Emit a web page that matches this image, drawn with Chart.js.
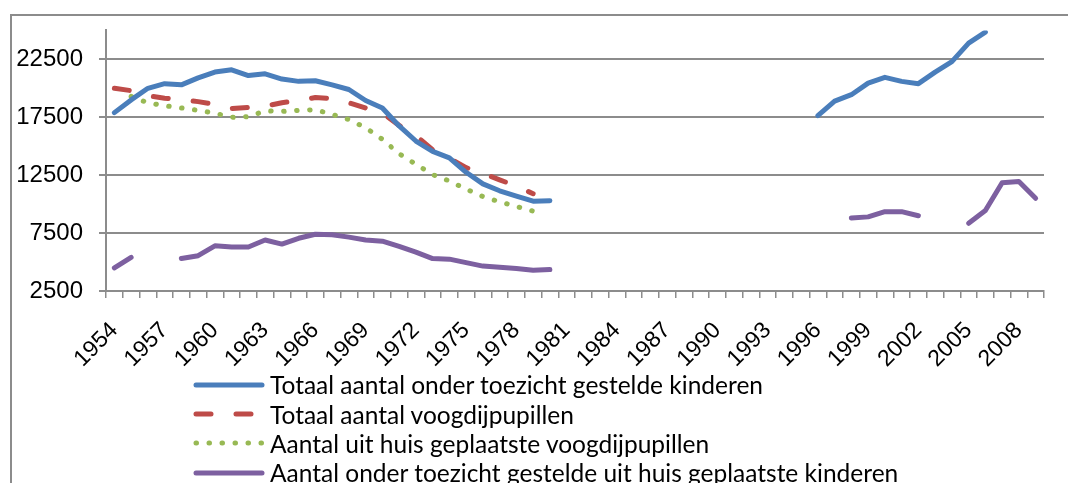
<!DOCTYPE html>
<html>
<head>
<meta charset="utf-8">
<script src="https://cdn.jsdelivr.net/npm/chart.js@4.4.0/dist/chart.umd.min.js"></script>
<style>
  html, body { margin: 0; padding: 0; background: #fff; }
  #wrap { position: relative; width: 1068px; height: 483px; overflow: hidden; }
  #frame { position: absolute; left: 10px; top: 14px; width: 1100px; height: 500px;
           border-left: 2px solid #8c8c8c; border-top: 2px solid #8c8c8c; }
  #chart { position: absolute; left: 0; top: 0; }
  #legend { position: absolute; left: 193px; top: 370px; font-family: Lato, sans-serif;
            font-size: 24.5px; color: #000; }
  #legend .item { height: 29.4px; display: flex; align-items: center; white-space: nowrap; }
  #legend svg { margin-right: 5px; }
</style>
</head>
<body>
<div id="wrap">
  <div id="frame"></div>
  <canvas id="chart" width="1068" height="483"></canvas>
  <div id="legend"></div>
</div>
<script>
const years = [
  '1954','1955','1956','1957','1958','1959','1960','1961','1962','1963',
  '1964','1965','1966','1967','1968','1969','1970','1971','1972','1973',
  '1974','1975','1976','1977','1978','1979','1980','1981','1982','1983',
  '1984','1985','1986','1987','1988','1989','1990','1991','1992','1993',
  '1994','1995','1996','1997','1998','1999','2000','2001','2002','2003',
  '2004','2005','2006','2007','2008','2009'
];
const shownYears = ['1954','1957','1960','1963','1966','1969','1972','1975','1978',
  '1981','1984','1987','1990','1993','1996','1999','2002','2005','2008'];
const yTicks = [2500, 7500, 12500, 17500, 22500];

// Totaal aantal onder toezicht gestelde kinderen
const totaalOts = [
  17900, 19000, 20000, 20400, 20300, 20900, 21400, 21600, 21100, 21250,
  20800, 20600, 20650, 20300, 19900, 18950, 18300, 16750, 15450, 14550,
  14000, 12750, 11750, 11150, 10700, 10250, 10300, null, null, null,
  null, null, null, null, null, null, null, null, null, null,
  null, null, 17650, 18900, 19450, 20450, 20950, 20600, 20400, 21400,
  22300, 23900, 24850, null, null, null
];
// Totaal aantal voogdijpupillen
const totaalVoogdij = [
  20000, 19800, 19350, 19150, 19000, 18850, 18600, 18250, 18350, 18450,
  18750, 18950, 19200, 19100, 18750, 18300, 17850, 16800, 15900, 14700,
  13950, 13150, 12650, 12100, 11550, 10900, null, null, null, null,
  null, null, null, null, null, null, null, null, null, null,
  null, null, null, null, null, null, null, null, null, null,
  null, null, null, null, null, null
];
// Aantal uit huis geplaatste voogdijpupillen
const uitHuisVoogdij = [
  null, 19300, 18750, 18500, 18300, 18100, 17850, 17500, 17550, 18050,
  18000, 18100, 18150, 17750, 17300, 16600, 15600, 14350, 13450, 12550,
  12000, 11300, 10650, 10200, 9800, 9400, null, null, null, null,
  null, null, null, null, null, null, null, null, null, null,
  null, null, null, null, null, null, null, null, null, null,
  null, null, null, null, null, null
];
// Aantal onder toezicht gestelde uit huis geplaatste kinderen
const uitHuisOts = [
  4500, 5400, null, null, 5300, 5550, 6400, 6300, 6300, 6900,
  6550, 7050, 7400, 7350, 7150, 6900, 6800, 6350, 5850, 5300,
  5250, 4950, 4650, 4550, 4450, 4300, 4350, null, null, null,
  null, null, null, null, null, null, null, null, null, null,
  null, null, null, null, 8800, 8900, 9350, 9350, 9000, null,
  null, 8350, 9450, 11850, 11950, 10500
];

const fontFamily = "'Liberation Sans', Arial, sans-serif";
const gridGrey = '#8c8c8c';

function series(label, data, color, dash) {
  return {
    label, data,
    borderColor: color,
    backgroundColor: color,
    borderWidth: 5,
    borderDash: dash,
    borderCapStyle: 'round',
    borderJoinStyle: 'round',
    pointRadius: 0,
    tension: 0,
    spanGaps: false,
    fill: false
  };
}

const chart = new Chart(document.getElementById('chart').getContext('2d'), {
  type: 'line',
  data: {
    labels: years,
    datasets: [
      series('Totaal aantal onder toezicht gestelde kinderen', totaalOts, '#4a7ebb', []),
      series('Totaal aantal voogdijpupillen', totaalVoogdij, '#be4b48', [15, 25]),
      series('Aantal uit huis geplaatste voogdijpupillen', uitHuisVoogdij, '#98b954', [0.5, 12.5]),
      series('Aantal onder toezicht gestelde uit huis geplaatste kinderen', uitHuisOts, '#7d60a0', [])
    ]
  },
  options: {
    responsive: false,
    animation: false,
    layout: { padding: { top: 29, right: 24, bottom: 110, left: 0 } },
    plugins: { legend: { display: false }, tooltip: { enabled: false } },
    scales: {
      x: {
        offset: true,
        grid: { offset: true, drawOnChartArea: false, color: gridGrey, lineWidth: 1.5, tickLength: 7 },
        border: { color: gridGrey, width: 2 },
        ticks: {
          autoSkip: false, minRotation: 45, maxRotation: 45, padding: 19,
          font: { family: fontFamily, size: 23 }, color: '#000',
          callback: function (v) {
            const y = this.getLabelForValue(v);
            return shownYears.includes(y) ? y : '';
          }
        },
        afterFit: s => { s.height = 82; s.paddingLeft = 0; s.paddingRight = 0; }
      },
      y: {
        min: 2500, max: 25000,
        grid: { color: gridGrey, lineWidth: 2, tickLength: 7 },
        border: { color: gridGrey, width: 2 },
        ticks: { padding: 16, font: { family: fontFamily, size: 24 }, color: '#000', callback: v => String(v) },
        afterBuildTicks: s => { s.ticks = yTicks.map(v => ({ value: v })); },
        afterFit: s => { s.width = 106; }
      }
    }
  }
});

// legend stacked vertically under the axis, built from the datasets
const legendEl = document.getElementById('legend');
chart.data.datasets.forEach(ds => {
  const row = document.createElement('div');
  row.className = 'item';
  const dash = ds.borderDash.length ? ds.borderDash.join(' ') : 'none';
  row.innerHTML =
    '<svg width="72" height="12"><line x1="3" y1="6" x2="69" y2="6" stroke="' + ds.borderColor +
    '" stroke-width="5" stroke-linecap="round" stroke-dasharray="' + dash + '"/></svg>' +
    '<span>' + ds.label + '</span>';
  legendEl.appendChild(row);
});
</script>
</body>
</html>
